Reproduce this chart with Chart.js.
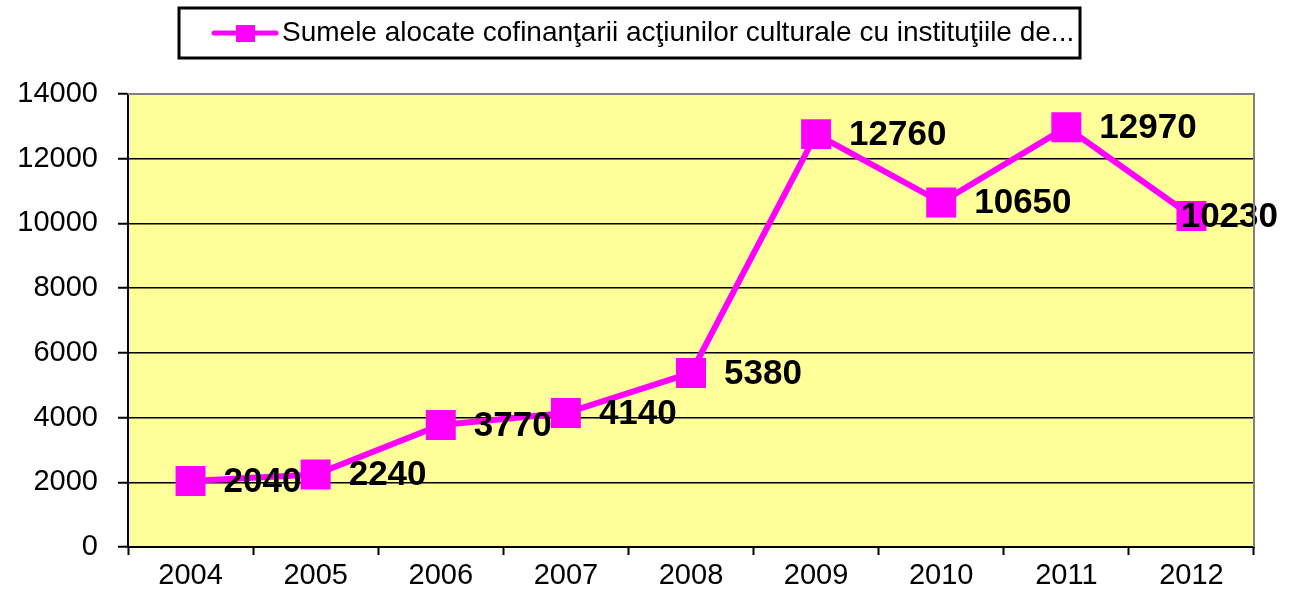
<!DOCTYPE html>
<html>
<head>
<meta charset="utf-8">
<script src="https://cdn.jsdelivr.net/npm/chart.js@4/dist/chart.umd.min.js"></script>
<style>
	html, body { margin: 0; padding: 0; background: #ffffff; }
	#wrap { width: 1294px; height: 595px; }
</style>
</head>
<body>
<div id="wrap"><canvas id="cntx_sume"></canvas></div>
<script>
const years = ["2004", "2005", "2006", "2007", "2008", "2009", "2010", "2011", "2012"];
const sume = [2040, 2240, 3770, 4140, 5380, 12760, 10650, 12970, 10230];
const series_label = "Sumele alocate cofinanţarii acţiunilor culturale cu instituţiile de...";
const y_ticks = [0, 2000, 4000, 6000, 8000, 10000, 12000, 14000];

// yellow plot background + gray top/right frame
const plotBackground = {
	id: "plotBackground",
	beforeDraw: (chart) => {
		const { ctx, chartArea } = chart;
		ctx.save();
		ctx.fillStyle = "#ffff99";
		ctx.fillRect(chartArea.left, chartArea.top, chartArea.right - chartArea.left, chartArea.bottom - chartArea.top);
		ctx.restore();
	},
	afterDraw: (chart) => {
		const { ctx, chartArea } = chart;
		ctx.save();
		ctx.strokeStyle = "#808080";
		ctx.lineWidth = 2;
		ctx.beginPath();
		ctx.moveTo(chartArea.left, chartArea.top);
		ctx.lineTo(chartArea.right, chartArea.top);
		ctx.lineTo(chartArea.right, chartArea.bottom);
		ctx.stroke();
		ctx.restore();
	},
};

// value labels to the right of each marker, pushed back in if they would leave the canvas
const valueLabels = {
	id: "valueLabels",
	afterDatasetsDraw: (chart) => {
		const { ctx } = chart;
		const meta = chart.getDatasetMeta(0);
		ctx.save();
		ctx.font = "bold 35px Arial, 'Liberation Sans'";
		ctx.fillStyle = "#000000";
		ctx.textAlign = "left";
		ctx.textBaseline = "middle";
		meta.data.forEach((pt, i) => {
			const txt = String(sume[i]);
			const w = ctx.measureText(txt).width;
			let x = pt.x + 33;
			if (x + w > chart.width - 16) x = chart.width - 16 - w;
			ctx.fillText(txt, x, pt.y + 1);
		});
		ctx.restore();
	},
};

// boxed legend like the spreadsheet one
const boxLegend = {
	id: "boxLegend",
	afterDraw: (chart) => {
		const { ctx } = chart;
		ctx.save();
		ctx.strokeStyle = "#000000";
		ctx.lineWidth = 3;
		ctx.strokeRect(179, 8, 901, 50);
		ctx.strokeStyle = "#ff00ff";
		ctx.lineWidth = 5;
		ctx.lineCap = "round";
		ctx.beginPath();
		ctx.moveTo(214, 33);
		ctx.lineTo(276, 33);
		ctx.stroke();
		ctx.fillStyle = "#ff00ff";
		ctx.fillRect(236, 25, 19, 17);
		ctx.fillStyle = "#000000";
		ctx.font = "28px Arial, 'Liberation Sans'";
		ctx.textAlign = "left";
		ctx.textBaseline = "middle";
		ctx.fillText(series_label, 282, 33);
		ctx.restore();
	},
};

drawChart = (canvas) => {
	const myChart = new Chart(canvas, {
		type: "line",
		data: {
			labels: years,
			datasets: [
				{
					label: series_label,
					data: sume,
					borderColor: "#ff00ff",
					backgroundColor: "#ff00ff",
					borderWidth: 6,
					pointStyle: "rect",
					pointRadius: 21.2,
					pointBorderWidth: 0,
					pointBackgroundColor: "#ff00ff",
					tension: 0,
				},
			],
		},
		options: {
			responsive: true,
			maintainAspectRatio: false,
			animation: false,
			layout: {
				padding: { left: 0, right: 40, top: 94, bottom: 0 },
			},
			plugins: {
				legend: { display: false },
				tooltip: { enabled: false },
			},
			scales: {
				x: {
					offset: true,
					afterFit: (scale) => { scale.height = 48; },
					border: { display: true, color: "#000000", width: 2 },
					grid: {
						offset: true,
						drawOnChartArea: false,
						drawTicks: true,
						tickLength: 8,
						tickWidth: 2,
						tickColor: "#000000",
					},
					ticks: {
						color: "#000000",
						font: { family: "Arial, 'Liberation Sans'", size: 29 },
						padding: 4,
						maxRotation: 0,
					},
				},
				y: {
					min: 0,
					max: 14000,
					afterFit: (scale) => { scale.width = 128; },
					afterBuildTicks: (scale) => {
						scale.ticks = y_ticks.map((v) => ({ value: v }));
					},
					border: { display: true, color: "#000000", width: 2 },
					grid: {
						color: (c) => (c.tick && c.tick.value === 14000 ? "rgba(0,0,0,0)" : "#000000"),
						lineWidth: 1.5,
						drawTicks: true,
						tickLength: 10,
						tickColor: "#000000",
						tickWidth: 2,
					},
					ticks: {
						color: "#000000",
						font: { family: "Arial, 'Liberation Sans'", size: 29 },
						padding: 20,
						callback: (v) => String(v),
					},
				},
			},
		},
		plugins: [plotBackground, valueLabels, boxLegend],
	});
};

drawChart(document.querySelector("#cntx_sume"));
</script>
</body>
</html>
